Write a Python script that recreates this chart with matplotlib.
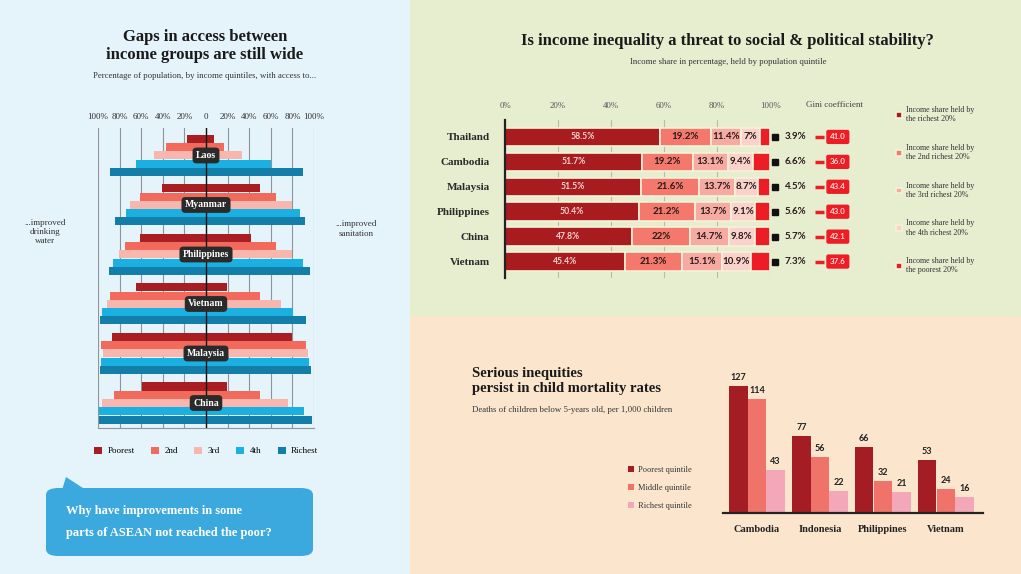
import numpy as np
import matplotlib.pyplot as plt
from matplotlib.patches import Rectangle, FancyBboxPatch, Polygon

W, H = 1021, 574
SERIF = 'Liberation Serif'
SANS = 'Lato'

# ---- access to water / sanitation, % of population by income quintile ----
access_countries = ['Laos', 'Myanmar', 'Philippines', 'Vietnam', 'Malaysia', 'China']
quintiles = ['Poorest', '2nd', '3rd', '4th', 'Richest']
water = [[18, 37, 48, 65, 89],
         [41, 61, 70, 74, 84],
         [61, 75, 81, 86, 90],
         [65, 89, 92, 96, 98],
         [87, 97, 95, 97, 98],
         [59, 85, 96, 99, 99]]
sanitation = [[7, 17, 33, 60, 90],
              [50, 65, 80, 87, 92],
              [42, 65, 80, 90, 96],
              [19, 50, 69, 81, 93],
              [80, 93, 94, 95, 97],
              [19, 50, 76, 91, 98]]
access_ticks = [-100, -80, -60, -40, -20, 0, 20, 40, 60, 80, 100]
access_ticklabels = ['100%', '80%', '60%', '40%', '20%', '0', '20%', '40%', '60%', '80%', '100%']

# ---- income share by quintile ----
share_countries = ['Thailand', 'Cambodia', 'Malaysia', 'Philippines', 'China', 'Vietnam']
richest = [58.5, 51.7, 51.5, 50.4, 47.8, 45.4]
second = [19.2, 19.2, 21.6, 21.2, 22, 21.3]
third = [11.4, 13.1, 13.7, 13.7, 14.7, 15.1]
fourth = [7, 9.4, 8.7, 9.1, 9.8, 10.9]
poorest = [3.9, 6.6, 4.5, 5.6, 5.7, 7.3]
gini = ['41.0', '36.0', '43.4', '43.0', '42.1', '37.6']

# ---- under-5 mortality per 1,000 ----
mort_countries = ['Cambodia', 'Indonesia', 'Philippines', 'Vietnam']
mort_poorest = [127, 77, 66, 53]
mort_middle = [114, 56, 32, 24]
mort_richest = [43, 22, 21, 16]


def fx(x):
    return x / W


def fy(y):
    return 1 - y / H


fig = plt.figure(figsize=(W / 100, H / 100), dpi=100)

# background panels (below the axes)
fig.patches.append(Rectangle((0, 0), fx(410), 1, transform=fig.transFigure, fc='#e5f3fb', ec='none', zorder=-2))
fig.patches.append(Rectangle((fx(410), fy(316)), 1 - fx(410), fy(0) - fy(316), transform=fig.transFigure,
                             fc='#e7edcf', ec='none', zorder=-2))
fig.patches.append(Rectangle((fx(410), 0), 1 - fx(410), fy(316), transform=fig.transFigure,
                             fc='#fbe6cd', ec='none', zorder=-2))

# ================= left: pyramid =================
q_cols = ['#a81e22', '#f26a5c', '#f8b7ae', '#1bb0e2', '#137fa9']
ax1 = fig.add_axes([fx(98), fy(428), fx(314) - fx(98), fy(128) - fy(428)])
ax1.patch.set_alpha(0)
for g, name in enumerate(access_countries):
    for q in range(5):
        y = g * 6 + q
        ax1.barh(y, -water[g][q], height=0.97, color=q_cols[q], zorder=2)
        ax1.barh(y, sanitation[g][q], height=0.97, color=q_cols[q], zorder=2)
    ax1.text(0, g * 6 + 2, name, ha='center', va='center', color='white', fontsize=7,
             family=SERIF, fontweight='bold', zorder=6,
             bbox=dict(boxstyle='round,pad=0.35,rounding_size=0.4', fc='#2a2a2a', ec='none'))
ax1.axvline(0, color='#111111', lw=1, zorder=4)
ax1.set_xlim(-100, 100)
ax1.set_ylim(35.03, -1.33)
ax1.set_xticks(access_ticks)
ax1.set_xticklabels(access_ticklabels, family=SERIF, fontsize=6.5, color='#333333')
ax1.xaxis.tick_top()
ax1.tick_params(axis='x', length=0, pad=5)
ax1.set_yticks([])
ax1.grid(axis='x', color='#8e959a', lw=0.8, zorder=0)
ax1.set_axisbelow(True)
for s in ['top', 'left', 'right']:
    ax1.spines[s].set_visible(False)
ax1.spines['bottom'].set_color('#8e959a')

leg1 = [Rectangle((0, 0), 1, 1, fc=c) for c in q_cols]
fig.legend(leg1, quintiles, ncol=5, loc='center', bbox_to_anchor=(fx(206), fy(451)), frameon=False,
           prop={'family': SERIF, 'size': 6.5}, handlelength=0.9, handleheight=0.9,
           columnspacing=1.8, handletextpad=0.6)

fig.text(fx(205), fy(46), 'Gaps in access between\nincome groups are still wide', ha='center', va='center',
         family=SERIF, fontweight='bold', fontsize=12, color='#1a1a1a', linespacing=1.15)
fig.text(fx(205), fy(76), 'Percentage of population, by income quintiles, with access to...', ha='center',
         va='center', family=SERIF, fontsize=6.3, color='#333333')
fig.text(fx(45), fy(232), '...improved\ndrinking\nwater', ha='center', va='center', family=SERIF,
         fontsize=6.5, color='#333333')
fig.text(fx(356), fy(229), '...improved\nsanitation', ha='center', va='center', family=SERIF,
         fontsize=6.5, color='#333333')

# speech bubble
fig.patches.append(FancyBboxPatch((fx(46), fy(556)), fx(313) - fx(46), fy(488) - fy(556),
                                  boxstyle='round,pad=0,rounding_size=0.012', transform=fig.transFigure,
                                  fc='#3ba9dd', ec='none', zorder=1))
fig.patches.append(Polygon([(fx(62), fy(490)), (fx(86), fy(490)), (fx(66), fy(477))],
                           transform=fig.transFigure, fc='#3ba9dd', ec='none', zorder=1))
fig.text(fx(66), fy(511), 'Why have improvements in some', va='center', family=SERIF,
         fontweight='bold', fontsize=9, color='white')
fig.text(fx(66), fy(533), 'parts of ASEAN not reached the poor?', va='center', family=SERIF,
         fontweight='bold', fontsize=9, color='white')

# ================= top right: income share =================
s_cols = ['#a81c20', '#f4786c', '#f6aaa1', '#f9d3cb', '#ec1d25']
ax2 = fig.add_axes([fx(505), fy(278), fx(770) - fx(505), fy(120) - fy(278)])
ax2.patch.set_alpha(0)
yy = np.arange(len(share_countries))
segs = [richest, second, third, fourth, poorest]
left = np.zeros(len(share_countries))
bars2 = []
for k, vals in enumerate(segs):
    b = ax2.barh(yy, vals, left=left, height=0.74, color=s_cols[k], edgecolor='#f7f1d8', lw=1.2, zorder=2)
    bars2.append(b)
    if k < 4:
        for i, v in enumerate(vals):
            ax2.text(left[i] + v / 2, i, f'{v:g}%', ha='center', va='center', zorder=5,
                     family=SANS, fontweight='bold', fontsize=6.2 if k == 0 else 7,
                     color='#f5d6d0' if k == 0 else '#2a1a1a')
    left = left + np.array(vals)
for i, v in enumerate(poorest):
    ax2.plot(101.9, i, marker='s', ms=3.8, color='#111111', clip_on=False)
    ax2.text(105.5, i, f'{v:g}%', ha='left', va='center', family=SANS, fontweight='bold',
             fontsize=7, color='#2a1a1a')
    ax2.plot([117, 120.5], [i, i], color='#ec1d25', lw=2.5, clip_on=False, solid_capstyle='butt')
    ax2.text(125.6, i, gini[i], ha='center', va='center', family=SANS, fontweight='bold', fontsize=5.8,
             color='#ffd8d8', bbox=dict(boxstyle='round,pad=0.45,rounding_size=0.25', fc='#ec1d25', ec='none'))
ax2.set_xlim(0, 100)
ax2.set_ylim(5.66, -0.68)
ax2.set_xticks([0, 20, 40, 60, 80, 100])
ax2.set_xticklabels(['0%', '20%', '40%', '60%', '80%', '100%'], family=SERIF, fontsize=6.3, color='#555555')
ax2.xaxis.tick_top()
ax2.tick_params(axis='x', length=0, pad=7)
ax2.set_yticks(yy)
ax2.set_yticklabels(share_countries, family=SERIF, fontweight='bold', fontsize=8, color='#2a2a2a')
ax2.tick_params(axis='y', length=0, pad=11)
ax2.grid(axis='x', color='#b9bba8', lw=0.8, zorder=0)
ax2.set_axisbelow(True)
for s in ['top', 'bottom', 'right']:
    ax2.spines[s].set_visible(False)
ax2.spines['left'].set_linewidth(1.6)
ax2.spines['left'].set_color('#222222')

fig.text(fx(727), fy(41), 'Is income inequality a threat to social & political stability?', ha='center',
         va='center', family=SERIF, fontweight='bold', fontsize=12, color='#1a1a1a')
fig.text(fx(728), fy(62), 'Income share in percentage, held by population quintile', ha='center',
         va='center', family=SERIF, fontsize=6.3, color='#333333')
fig.text(fx(834), fy(105), 'Gini coefficient', ha='center', va='center', family=SERIF, fontsize=6.5,
         color='#444444')
share_labels = ['Income share held by\nthe richest 20%', 'Income share held by\nthe 2nd richest 20%',
                'Income share held by\nthe 3rd richest 20%', 'Income share held by\nthe 4th richest 20%',
                'Income share held by\nthe poorest 20%']
fig.legend([b[0] for b in bars2], share_labels, loc='upper left', bbox_to_anchor=(fx(889), fy(99)),
           frameon=False, prop={'family': SERIF, 'size': 5.8}, handlelength=0.7, handleheight=0.7,
           handletextpad=0.5, labelspacing=2.55, labelcolor='#333333')

# ================= bottom right: child mortality =================
m_cols = ['#a51d24', '#f0736a', '#f4a7b8']
ax3 = fig.add_axes([fx(723), fy(513), fx(983) - fx(723), fy(373) - fy(513)])
ax3.patch.set_alpha(0)
xx = np.arange(len(mort_countries))
bw = 0.29
bars3 = []
for k, vals in enumerate([mort_poorest, mort_middle, mort_richest]):
    b = ax3.bar(xx + (k - 1) * 0.295, vals, width=bw, color=m_cols[k], zorder=2)
    bars3.append(b)
    for i, v in enumerate(vals):
        ax3.text(xx[i] + (k - 1) * 0.295, v + 4, str(v), ha='center', va='bottom', family=SANS,
                 fontweight='bold', fontsize=6.5, color='#222222')
ax3.set_xlim(-0.54, 3.59)
ax3.set_ylim(0, 140)
ax3.set_yticks([])
ax3.set_xticks(xx)
ax3.set_xticklabels(mort_countries, family=SERIF, fontweight='bold', fontsize=7.5, color='#222222')
ax3.tick_params(axis='x', length=0, pad=9)
for s in ['top', 'left', 'right']:
    ax3.spines[s].set_visible(False)
ax3.spines['bottom'].set_linewidth(1.6)
ax3.spines['bottom'].set_color('#222222')

fig.text(fx(472), fy(381), 'Serious inequities\npersist in child mortality rates', ha='left', va='center',
         family=SERIF, fontweight='bold', fontsize=10.5, color='#1a1a1a', linespacing=1.15)
fig.text(fx(472), fy(410), 'Deaths of children below 5-years old, per 1,000 children', ha='left',
         va='center', family=SERIF, fontsize=6.3, color='#333333')
fig.legend([b[0] for b in bars3], ['Poorest quintile', 'Middle quintile', 'Richest quintile'],
           loc='upper left', bbox_to_anchor=(fx(620), fy(458)), frameon=False,
           prop={'family': SERIF, 'size': 6}, handlelength=0.8, handleheight=0.8,
           handletextpad=0.5, labelspacing=1.2, labelcolor='#333333')

fig.savefig('out.png', dpi=100)
